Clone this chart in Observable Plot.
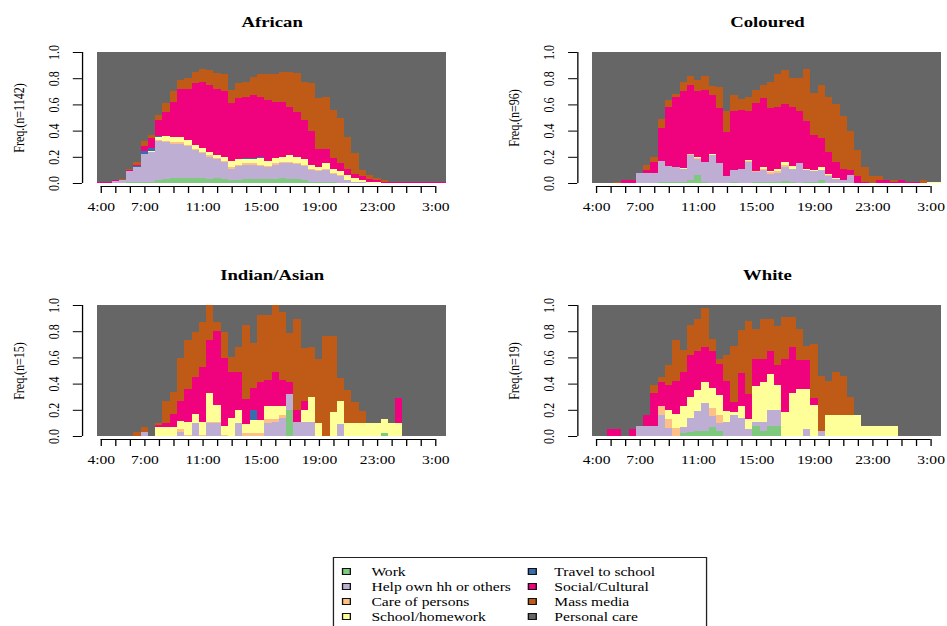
<!DOCTYPE html>
<html><head><meta charset="utf-8">
<script src="https://cdn.jsdelivr.net/npm/d3@7"></script>
<script src="https://cdn.jsdelivr.net/npm/@observablehq/plot@0.6"></script>
<style>
html,body{margin:0;padding:0;background:#fff;overflow:hidden;width:947px;height:626px;}
#fig{position:relative;width:728.5px;height:626px;transform:scaleX(1.3);transform-origin:0 0;font-family:"Liberation Serif",serif;}
.panel{position:absolute;width:360px;height:240px;}
.panel svg{overflow:visible;max-width:none;}
#legend{position:absolute;left:256.2px;top:557px;width:287.6px;height:90px;border:1.5px solid #222;box-sizing:border-box;background:#fff;}
.sw{position:absolute;width:7px;height:7px;border:1.5px solid #111;box-sizing:border-box;}
.lt{position:absolute;font-size:12px;line-height:14px;color:#000;white-space:nowrap;}
</style></head><body><div id="fig"></div><script>
const slots = ["4:00","4:30","5:00","5:30","6:00","6:30","7:00","7:30","8:00","8:30","9:00","9:30","10:00","10:30","11:00","11:30","12:00","12:30","13:00","13:30","14:00","14:30","15:00","15:30","16:00","16:30","17:00","17:30","18:00","18:30","19:00","19:30","20:00","20:30","21:00","21:30","22:00","22:30","23:00","23:30","0:00","0:30","1:00","1:30","2:00","2:30","3:00","3:30"];
const hourTicks = ["4:00","5:00","6:00","7:00","8:00","9:00","10:00","11:00","12:00","13:00","14:00","15:00","16:00","17:00","18:00","19:00","20:00","21:00","22:00","23:00","0:00","1:00","2:00","3:00"];
const hourLabels = ["4:00","7:00","11:00","15:00","19:00","23:00","3:00"];
const yTicks = [0, 0.2, 0.4, 0.6, 0.8, 1.0];
const categories = ["Work","Help own hh or others","Care of persons","School/homework","Travel to school","Social/Cultural","Mass media","Personal care"];
const colors = ["#7FC97F","#BEAED4","#FDC086","#FFFF99","#386CB0","#F0027F","#BF5B17","#666666"];
const groups = ["African","Coloured","Indian/Asian","White"];
const sampleSizes = [1142, 96, 15, 19];

// ---- African ----
const africanWork   = [0,0,0,0,.005,.01,.01,.01, .02,.03,.04,.04,.04,.035,.035,.03, .035,.03,.02,.025,.03,.03,.03,.03, .03,.035,.03,.03,.02,.01,.01,.01, .005,0,0,0,0,0,0,0, 0,0,0,0,0,0,0,0];
const africanHelp   = [0,0,.015,.02,.085,.11,.21,.23, .30,.28,.26,.26,.24,.215,.195,.17, .145,.13,.09,.105,.11,.11,.10,.09, .11,.115,.12,.115,.11,.09,.08,.09, .065,.05,.02,.01,.005,0,0,0, 0,0,0,0,0,0,0,0];
const africanCare   = [0,0,0,0,0,0,0,0, .005,.01,.01,.01,.01,.01,.01,.01, .01,.01,.01,.01,.01,.01,.01,.01, .01,.01,.01,.01,.01,.01,.01,.01, .01,.01,.005,0,0,0,0,0, 0,0,0,0,0,0,0,0];
const africanSchool = [0,0,0,0,0,0,.005,.005, .025,.04,.04,.04,.04,.03,.03,.03, .02,.03,.05,.04,.03,.03,.05,.04, .04,.04,.05,.045,.04,.03,.02,.04, .03,.03,.035,.025,.015,.01,.01,0, 0,0,0,0,0,0,0,0];
const africanTravel = [0,0,0,0,0,.01,.02,.02, .005,0,0,0,0,0,0,0, 0,0,0,0,.01,.01,.01,0, 0,0,0,0,0,0,0,0, 0,0,0,0,0,0,0,0, 0,0,0,0,0,0,0,0];
const africanSocial = [.01,.01,.005,.005,.01,.01,.035,.075, .125,.18,.27,.37,.39,.47,.50,.51, .51,.50,.44,.47,.47,.48,.46,.46, .43,.42,.37,.34,.30,.26,.14,.11, .08,.06,.05,.035,.03,.02,.01,.01, .01,.01,.01,.01,.01,.01,.01,.01];
const africanMedia  = [0,0,.005,.005,.01,.02,.04,.03, .04,.07,.08,.07,.08,.09,.10,.11, .12,.13,.10,.11,.11,.14,.17,.20, .21,.23,.27,.30,.29,.36,.39,.40, .37,.35,.24,.16,.05,.03,.02,.01, 0,0,0,0,0,0,0,0];

// ---- Coloured ----
const colouredWork   = [0,0,0,0,0,0,0,0, 0,.01,.01,.01,.01,.025,.06,.005, 0,0,0,.005,0,0,.01,.01, .01,.01,.015,.005,0,.005,.01,.02, 0,0,0,0,0,0,0,0, 0,0,0,0,0,0,0,0];
const colouredHelp   = [0,0,0,0,0,0,.08,.08, .08,.16,.12,.115,.10,.185,.12,.155, .21,.15,.05,.095,.11,.16,.075,.09, .06,.07,.11,.105,.15,.095,.08,.08, .05,.03,.02,.06,0,0,0,0, 0,0,0,0,0,0,0,0];
const colouredCare   = [0,0,0,0,0,0,0,0, 0,0,0,0,0,.01,.01,0, .005,0,0,0,0,.01,.01,.01, .015,.01,.01,0,.005,0,0,0, .01,0,0,0,0,0,0,0, 0,0,0,0,0,0,0,0];
const colouredSchool = [0,0,0,0,0,0,0,0, 0,0,0,0,.005,.005,.01,0, .005,0,0,0,0,.005,0,.015, .01,.02,.025,.02,0,.005,.01,.02, .005,.01,.005,0,0,0,0,0, 0,0,0,0,0,0,.01,.01];
const colouredTravel = [0,0,0,0,0,0,0,0, 0,0,0,0,0,0,0,0, 0,0,0,0,0,0,0,0, 0,0,0,0,0,0,0,0, 0,0,0,0,0,0,0,0, 0,0,0,0,0,0,0,0];
const colouredSocial = [0,0,0,0,.02,.02,0,.02, .08,.25,.45,.535,.585,.525,.50,.55, .45,.42,.34,.45,.45,.375,.515,.525, .475,.47,.44,.45,.395,.365,.27,.22, .175,.12,.085,.04,.05,.01,0,.02, .02,.01,.02,.005,.005,0,0,0];
const colouredMedia  = [0,0,0,.01,0,0,0,.04, .04,.07,.05,.02,.07,.07,.09,.11, .07,.16,.16,.12,.08,.11,.10,.10, .20,.25,.26,.22,.25,.40,.32,.41, .42,.44,.40,.30,.20,.115,.05,.03, 0,.01,0,.005,.005,.02,0,0];

// ---- Indian/Asian ----
const indianWork   = [0,0,0,0,0,0,0,0, 0,0,0,0,0,0,0,0, 0,0,0,0,0,0,0,0, 0,0,.20,0,0,0,0,0, 0,0,0,0,0,0,0,.02, 0,0,0,0,0,0,0,0];
const indianHelp   = [0,0,0,0,0,0,.033,0, 0,0,0,.033,0,.10,0,.10, .10,0,0,.10,0,0,0,.10, .11,.14,.12,.11,.11,.11,0,0, 0,.09,0,0,0,0,0,0, 0,0,0,0,0,0,0,0];
const indianCare   = [0,0,0,0,0,0,0,0, 0,0,0,.017,.01,0,.01,.01, .01,.01,0,0,.02,.02,.02,.03, .02,.02,0,0,0,0,0,0, 0,0,0,0,0,0,0,0, 0,0,0,0,0,0,0,0];
const indianSchool = [0,0,0,0,0,0,0,0, .067,.067,.067,.067,.10,.067,.10,.22, .13,.067,.14,.10,.07,.10,.10,.10, .10,.07,0,0,.09,.19,.10,0, .18,.18,.10,.10,.10,.10,.10,.11, .10,.10,0,0,0,0,0,0];
const indianTravel = [0,0,0,0,0,0,0,0, 0,0,0,0,0,0,0,0, 0,0,0,0,0,.08,0,0, 0,0,0,0,0,0,0,0, 0,0,0,0,0,0,0,0, 0,0,0,0,0,0,0,0];
const indianSocial = [0,0,0,0,0,0,0,0, .017,.033,.10,.15,.25,.28,.42,.40, .56,.52,.35,.29,.19,.17,.29,.20, .26,.20,.09,.09,.07,0,0,0, 0,0,0,0,0,0,0,0, 0,.19,0,0,0,0,0,0];
const indianMedia  = [0,0,0,0,0,.033,.033,0, .017,.17,.17,.33,.37,.35,.34,.27, .07,.20,.11,.19,.57,.34,.51,.49, .51,.52,.38,.69,.40,.38,.49,.76, .58,.17,.25,.16,.09,0,0,0, 0,0,0,0,0,0,0,0];

// ---- White ----
const whiteWork   = [0,0,0,0,0,0,0,0, 0,0,0,0,.02,.03,.035,.035, .07,.04,0,0,0,0,.08,.04, .08,.08,0,0,0,0,0,0, 0,0,0,0,0,0,0,0, 0,0,0,0,0,0,0,0];
const whiteHelp   = [0,0,0,0,0,0,.08,.08, .08,.16,.06,0,.05,.11,.155,.215, .08,.06,.11,.16,.14,.05,.03,.07, .12,.12,0,0,0,.05,0,.04, 0,0,0,0,0,0,0,0, 0,0,0,0,0,0,0,0];
const whiteCare   = [0,0,0,0,0,0,0,0, 0,.07,.07,.06,0,0,0,0, .06,.06,0,0,0,0,0,0, 0,0,0,0,0,0,0,0, 0,0,0,0,0,0,0,0, 0,0,0,0,0,0,0,0];
const whiteSchool = [0,0,0,0,0,0,0,0, 0,0,.07,.11,.16,.16,.16,.16, .16,.15,.08,.02,.09,.08,.27,.30, .27,.19,.18,.33,.36,.31,.24,0, .16,.16,.16,.16,.16,.08,.08,.08, .08,.08,0,0,0,0,0,0];
const whiteTravel = [0,0,0,0,0,0,0,0, 0,0,0,0,0,0,0,0, 0,0,0,0,0,0,0,0, 0,0,0,0,0,0,0,0, 0,0,0,0,0,0,0,0, 0,0,0,0,0,0,0,0];
const whiteSocial = [0,0,.05,.05,0,.05,0,.08, .25,.18,.19,.25,.26,.32,.30,.27, .28,.24,.23,.08,.25,.19,.21,.18, .18,.15,.41,.35,.22,.22,.05,0, 0,0,0,0,0,0,0,0, 0,0,0,0,0,0,0,0];
const whiteMedia  = [0,0,0,0,0,0,0,0, .06,.04,.15,.31,.17,.23,.24,.30, .09,.04,.20,.43,.33,.56,.23,.30, .24,.30,.32,.23,.24,.11,.41,.42, .26,.33,.30,.14,0,0,0,0, 0,0,0,0,0,0,0,0];

const panelSeries = [
  [africanWork, africanHelp, africanCare, africanSchool, africanTravel, africanSocial, africanMedia],
  [colouredWork, colouredHelp, colouredCare, colouredSchool, colouredTravel, colouredSocial, colouredMedia],
  [indianWork, indianHelp, indianCare, indianSchool, indianTravel, indianSocial, indianMedia],
  [whiteWork, whiteHelp, whiteCare, whiteSchool, whiteTravel, whiteSocial, whiteMedia]
];

function toHour(s) { const [h, m] = s.split(":").map(Number); const v = h + m / 60; return v < 4 ? v + 24 : v; }
const tickH = hourTicks.map(toHour);
const labelMap = new Map(hourLabels.map(l => [toHour(l), l]));
const xLo = toHour(slots[0]) - 0.25, xHi = toHour(slots[slots.length - 1]) + 0.25;

function panelChart(gi) {
  const series = panelSeries[gi];
  // Personal care is the remaining share of each half-hour slot
  const personal = slots.map((_, i) => Math.max(0, 1 - d3.sum(series, s => s[i])));
  const all = [...series, personal];
  const rows = [];
  categories.forEach((c, k) => all[k].forEach((v, i) => rows.push({h: toHour(slots[i]), activity: c, value: v})));
  return Plot.plot({
    width: 360, height: 240,
    marginLeft: 63, marginRight: 5.3, marginTop: 52, marginBottom: 54,
    x: {domain: [xLo, xHi], range: [74.6, 343.1]},
    y: {domain: [0, 1], range: [183, 52]},
    color: {domain: categories, range: colors},
    style: {fontFamily: "Liberation Serif", fontSize: "12px", color: "black", background: "transparent"},
    marks: [
      Plot.rectY(rows, {x1: d => d.h - 0.25, x2: d => d.h + 0.25, y: "value", fill: "activity", shapeRendering: "crispEdges"}),
      Plot.ruleY([0], {x1: tickH[0], x2: tickH[tickH.length - 1], dy: 3, stroke: "black"}),
      Plot.ruleX([xLo], {y1: yTicks[0], y2: yTicks[yTicks.length - 1], dx: -11.6, stroke: "black"}),
      Plot.axisX({ticks: tickH, tickSize: 7, tickPadding: 9, tickFormat: h => labelMap.get(h) ?? "", label: null, stroke: "black"}),
      Plot.axisY({ticks: yTicks, tickSize: 7, tickPadding: 11, tickRotate: -90, tickFormat: d => d.toFixed(1), label: null, stroke: "black"}),
      Plot.text([groups[gi]], {frameAnchor: "top", dy: -30, lineAnchor: "middle", fontWeight: "bold", fontSize: 14.4}),
      Plot.text([`Freq.(n=${sampleSizes[gi]})`], {frameAnchor: "left", dx: -49.2, dy: -1.5, textAnchor: "middle", lineAnchor: "middle", rotate: -90, fontSize: 12})
    ]
  });
}

const fig = document.getElementById("fig");
groups.forEach((g, gi) => {
  const div = document.createElement("div");
  div.className = "panel";
  div.style.left = (gi % 2) * 380.77 + "px";
  div.style.top = Math.floor(gi / 2) * 253 + "px";
  div.appendChild(panelChart(gi));
  fig.appendChild(div);
});

// legend
const legend = document.createElement("div");
legend.id = "legend";
categories.forEach((c, k) => {
  const col = Math.floor(k / 4), row = k % 4;
  const cy = 13.5 + 15 * row;
  const sw = document.createElement("div");
  sw.className = "sw";
  sw.style.background = colors[k];
  sw.style.left = (col ? 149.3 : 6.1) + "px";
  sw.style.top = (cy - 3.5) + "px";
  const t = document.createElement("div");
  t.className = "lt";
  t.textContent = c;
  t.style.left = (col ? 169.2 : 28.5) + "px";
  t.style.top = (cy - 7) + "px";
  legend.appendChild(sw);
  legend.appendChild(t);
});
fig.appendChild(legend);
</script></body></html>
